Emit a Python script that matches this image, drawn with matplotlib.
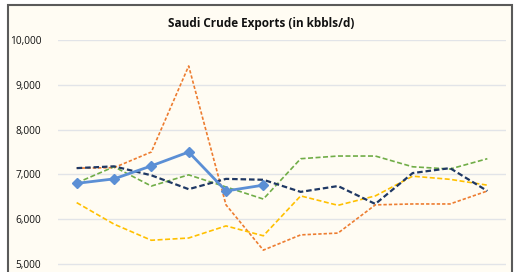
import matplotlib
matplotlib.use("Agg")
import matplotlib.pyplot as plt
from matplotlib.patches import Rectangle

months = list(range(12))
s_blue = [6800, 6900, 7190, 7500, 6630, 6760]
s_orange = [7140, 7150, 7500, 9420, 6320, 5310, 5650, 5690, 6320, 6340, 6340, 6630]
s_navy = [7140, 7180, 6980, 6670, 6900, 6880, 6610, 6740, 6340, 7030, 7140, 6630]
s_green = [6810, 7170, 6740, 6990, 6720, 6450, 7350, 7410, 7410, 7170, 7120, 7350]
s_yellow = [6370, 5890, 5530, 5580, 5850, 5630, 6520, 6310, 6520, 6960, 6890, 6760]
yticks = [5000, 6000, 7000, 8000, 9000, 10000]
title = "Saudi Crude Exports (in kbbls/d)"

W, H = 520, 272
fig = plt.figure(figsize=(W / 100, H / 100), dpi=100)
fig.patch.set_facecolor("white")
bg = "#FFFCF3"
fig.patches.append(Rectangle((8 / W, -0.2), (512 - 8) / W, 1.2 - 5 / H,
                             transform=fig.transFigure, facecolor=bg,
                             edgecolor="#5A5A5A", linewidth=1.5, zorder=-10))

top = 40
px_per_k = 44.8
ymin = 4000
height_px = (10000 - ymin) / 1000 * px_per_k
ax = fig.add_axes([58 / W, 1 - (top + height_px) / H, 448 / W, height_px / H])
ax.set_zorder(5)
ax.set_facecolor("none")
ax.set_xlim(-0.5, 11.5)
ax.set_ylim(ymin, 10000)
for s in ax.spines.values():
    s.set_visible(False)
ax.set_yticks(yticks)
ax.set_yticklabels([f"{v:,}" for v in yticks], fontsize=7.3, family="Open Sans", color="#111111")
ax.tick_params(axis="y", length=0, pad=12)
ax.set_xticks([])
ax.grid(axis="y", color="#E2E4E8", linewidth=1.0)
ax.set_axisbelow(True)

ax.plot(months, s_orange, color="#ED7D31", linewidth=1.2, linestyle=(0, (2.0, 1.2)))
ax.plot(months, s_green, color="#70AD47", linewidth=1.2, linestyle=(0, (3.0, 1.5)))
ax.plot(months, s_yellow, color="#FFC000", linewidth=1.2, linestyle=(0, (3.0, 1.5)))
ax.plot(months, s_navy, color="#1F3864", linewidth=1.6, linestyle=(0, (2.5, 1.3)))
ax.plot(months[:len(s_blue)], s_blue, color="#5B8FD5", linewidth=2.0, marker="D",
        markersize=5, markerfacecolor="#5B8FD5", markeredgecolor="#5B8FD5")

fig.text(261 / W, 1 - 24 / H, title, ha="center", va="center", fontsize=8.5,
         fontweight="bold", family="Open Sans", color="#111111", zorder=6)

fig.savefig("out.png", dpi=100, facecolor=fig.get_facecolor())
